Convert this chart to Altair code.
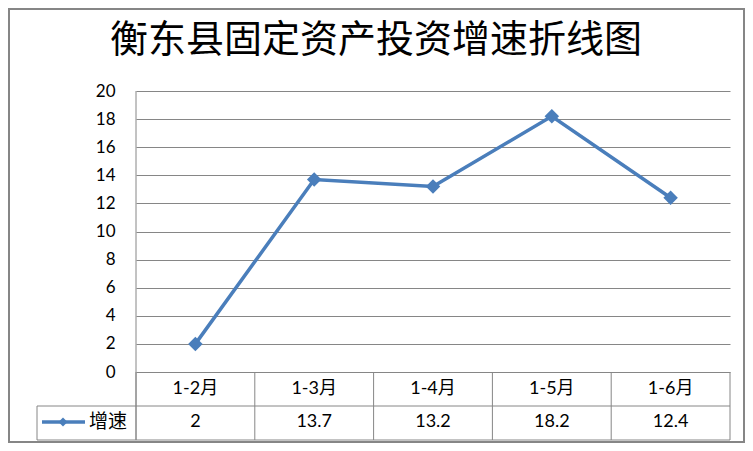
import altair as alt
import pandas as pd

title_text = "衡东县固定资产投资增速折线图"
series_name = "增速"
categories = ["1-2月", "1-3月", "1-4月", "1-5月", "1-6月"]
values = [2, 13.7, 13.2, 18.2, 12.4]
y_ticks = [0, 2, 4, 6, 8, 10, 12, 14, 16, 18, 20]

W, H = 594, 281
PAD = {"left": 128, "top": 83, "right": 15, "bottom": 71}
BLUE = "#4A7EBB"
GRAY = "#868686"
FONT = "Lato, 'Noto Sans CJK SC'"
CJK = "'Noto Sans CJK SC'"

df = pd.DataFrame({"cat": categories, "val": values})
one = pd.DataFrame({"a": [0]})

xscale = alt.Scale(type="band", domain=categories, paddingInner=0, paddingOuter=0)
x_enc = alt.X("cat:N", scale=xscale, axis=None, sort=categories)

yaxis = alt.Axis(values=y_ticks, grid=True, gridColor=GRAY, gridWidth=1, domain=False,
                 ticks=False, tickSize=0, labelPadding=21, labelFont=FONT, labelFontSize=17,
                 labelColor="#000000", labelOverlap=False, title=None)
y_enc = alt.Y("val:Q", scale=alt.Scale(domain=[0, 20], nice=False), axis=yaxis)

base = alt.Chart(df)
line = base.mark_line(color=BLUE, strokeWidth=3.5).encode(x=x_enc, y=y_enc)
pts = base.mark_point(shape="diamond", filled=True, color=BLUE, size=210, opacity=1).encode(
    x=x_enc, y=y_enc)

header = base.mark_text(font=FONT, fontSize=18, color="#000000", baseline="middle").encode(
    x=x_enc, y=alt.value(298), text="cat:N")
vals = base.mark_text(font=FONT, fontSize=18, color="#000000", baseline="middle").encode(
    x=x_enc, y=alt.value(331), text="val:Q")

bounds = base.mark_rule(color=GRAY, strokeWidth=1).encode(
    x=alt.X("cat:N", scale=xscale, axis=None, sort=categories, bandPosition=0),
    y=alt.value(H), y2=alt.value(349))

o = alt.Chart(one)
right_edge = o.mark_rule(color=GRAY, strokeWidth=1).encode(
    x=alt.value(W), y=alt.value(H), y2=alt.value(349))
hline1 = o.mark_rule(color=GRAY, strokeWidth=1).encode(
    x=alt.value(-99), x2=alt.value(W), y=alt.value(315))
hline2 = o.mark_rule(color=GRAY, strokeWidth=1).encode(
    x=alt.value(-99), x2=alt.value(W), y=alt.value(349))
leftcell = o.mark_rule(color=GRAY, strokeWidth=1).encode(
    x=alt.value(-99), y=alt.value(315), y2=alt.value(349))
axisline = o.mark_rule(color=GRAY, strokeWidth=1).encode(
    x=alt.value(0), y=alt.value(0), y2=alt.value(349))

leg_line = o.mark_rule(color=BLUE, strokeWidth=3.5).encode(
    x=alt.value(-94), x2=alt.value(-51), y=alt.value(331))
leg_pt = o.mark_point(shape="diamond", filled=True, color=BLUE, size=80, opacity=1).encode(
    x=alt.value(-73), y=alt.value(331))
leg_text = alt.Chart(pd.DataFrame({"s": [series_name]})).mark_text(
    font=CJK, fontSize=19, color="#000000", align="left", baseline="middle").encode(
    x=alt.value(-47), y=alt.value(331), text="s:N")

title = alt.Chart(pd.DataFrame({"t": [title_text]})).mark_text(
    font=CJK, fontSize=38, color="#000000", align="center", baseline="middle").encode(
    x=alt.value(240), y=alt.value(-50), text="t:N")

border = o.mark_rect(fillOpacity=0, stroke=GRAY, strokeWidth=2).encode(
    x=alt.value(-127), x2=alt.value(W + PAD["right"] - 1),
    y=alt.value(-82), y2=alt.value(H + PAD["bottom"] - 1))

chart = alt.layer(
    line, right_edge, hline1, hline2, leftcell, axisline, bounds, header, vals,
    pts, leg_line, leg_pt, leg_text, title, border
).properties(
    width=W, height=H, padding=PAD, autosize=alt.AutoSizeParams(type="none"),
    background="#ffffff"
).configure_view(strokeWidth=0)

chart.save("out.html", embed_options={"renderer": "svg", "actions": False})
